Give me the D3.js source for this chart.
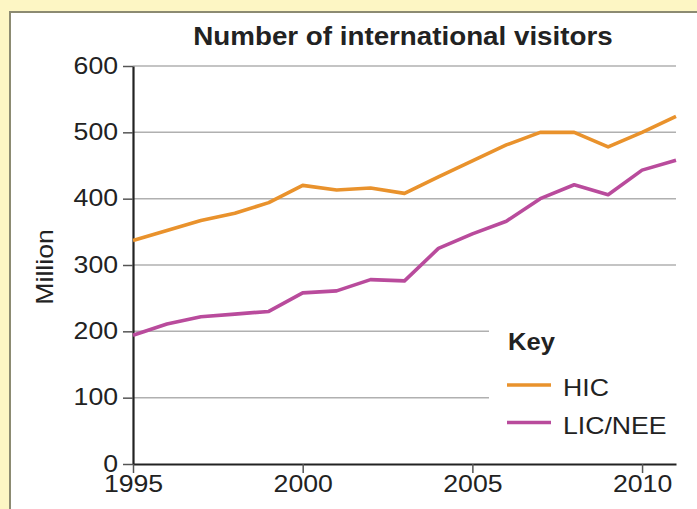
<!DOCTYPE html>
<html>
<head>
<meta charset="utf-8">
<script src="https://cdn.jsdelivr.net/npm/d3@7"></script>
<style>
  html, body { margin: 0; padding: 0; background: #fdf6c4; }
  text { font-family: "Liberation Sans", Arial, sans-serif; fill: #222; }
</style>
</head>
<body>
<svg id="chart"></svg>
<script>
//chart data
const years = [1995, 1996, 1997, 1998, 1999, 2000, 2001, 2002, 2003, 2004, 2005, 2006, 2007, 2008, 2009, 2010, 2011];
const hic = [337, 352, 367, 378, 394, 420, 413, 416, 408, 433, 457, 481, 500, 500, 478, 500, 524];
const licNee = [194, 211, 222, 226, 230, 258, 261, 278, 276, 325, 347, 366, 400, 421, 406, 443, 458];
const yTicks = [0, 100, 200, 300, 400, 500, 600];
const xTicks = [1995, 2000, 2005, 2010];
const seriesNames = ['HIC', 'LIC/NEE'];
const seriesColors = ['#e9922c', '#b94b9c'];

const W = 697, H = 509;
const margin = {top: 66, right: 21, bottom: 45, left: 133};
const width = W - margin.left - margin.right;
const height = H - margin.top - margin.bottom;
const stretch = 1.11; // the picture is a little wide, text gets widened to match

const svg = d3.select('#chart').attr('width', W).attr('height', H);

//white panel with its border
svg.append('rect')
    .attr('x', 10).attr('y', 12)
    .attr('width', W + 20).attr('height', H + 20)
    .attr('fill', '#fff')
    .attr('stroke', '#8c8b72')
    .attr('stroke-width', 2);

const g = svg.append('g')
    .attr('transform', 'translate(' + margin.left + ',' + margin.top + ')');

const x = d3.scaleLinear().domain([1995, 2011]).range([0, width]);
const y = d3.scaleLinear().domain([0, 600]).range([height, 0]);

//gridlines
g.append('g')
    .selectAll('line')
    .data(yTicks.slice(1))
    .enter()
    .append('line')
        .attr('x1', 0).attr('x2', width)
        .attr('y1', d => y(d)).attr('y2', d => y(d))
        .attr('stroke', '#b0b0b0')
        .attr('stroke-width', 1.5);

//white block behind the key
g.append('rect')
    .attr('x', 356).attr('y', y(262))
    .attr('width', width - 356).attr('height', y(3) - y(262))
    .attr('fill', '#fff');

//Y axis
const yAxis = g.append('g')
    .call(d3.axisLeft(y).tickValues(yTicks).tickSizeInner(10).tickSizeOuter(0).tickPadding(5));
yAxis.select('.domain').attr('stroke', '#222').attr('stroke-width', 2.2);
yAxis.selectAll('.tick line').attr('stroke', '#555').attr('stroke-width', 1.5);
yAxis.selectAll('text').style('font-size', '24px').attr('fill', '#222').attr('dy', '0.3em');

//X axis
const xAxis = g.append('g')
    .attr('transform', 'translate(0,' + height + ')')
    .call(d3.axisBottom(x).tickValues(xTicks).tickFormat(d3.format('d')).tickSizeInner(9).tickSizeOuter(0).tickPadding(2));
xAxis.select('.domain').attr('stroke', '#222').attr('stroke-width', 2.2);
xAxis.selectAll('.tick line').attr('stroke', '#555').attr('stroke-width', 1.5);
xAxis.selectAll('text').style('font-size', '24px').attr('fill', '#222');

//the two lines
const line = d3.line()
    .x((d, i) => x(years[i]))
    .y(d => y(d));
[hic, licNee].forEach((s, k) => {
    g.append('path')
        .datum(s)
        .attr('d', line)
        .attr('fill', 'none')
        .attr('stroke', seriesColors[k])
        .attr('stroke-width', 3.6)
        .attr('stroke-linejoin', 'round');
});

//title
svg.append('text')
    .attr('x', 403).attr('y', 45)
    .attr('text-anchor', 'middle')
    .style('font-size', '25px')
    .style('font-weight', 'bold')
    .text('Number of international visitors');

//y axis label
svg.append('text')
    .attr('transform', 'translate(53,267) rotate(-90)')
    .attr('text-anchor', 'middle')
    .style('font-size', '24px')
    .text('Million');

//key
svg.append('text')
    .attr('x', 508).attr('y', 350)
    .style('font-size', '23px')
    .style('font-weight', 'bold')
    .text('Key');
const key = svg.append('g')
    .selectAll('g')
    .data(seriesNames)
    .enter()
    .append('g')
        .attr('transform', (d, i) => 'translate(507,' + (385 + i * 37.5) + ')');
key.append('line')
    .attr('x1', 0).attr('x2', 44)
    .attr('stroke', (d, i) => seriesColors[i])
    .attr('stroke-width', 3.6);
key.append('text')
    .attr('x', 56).attr('y', 11)
    .style('font-size', '24px')
    .text(d => d);

//widen every text a little like the picture
svg.selectAll('text').each(function() {
    const len = this.getComputedTextLength();
    d3.select(this).attr('textLength', len * stretch).attr('lengthAdjust', 'spacingAndGlyphs');
});
</script>
</body>
</html>
